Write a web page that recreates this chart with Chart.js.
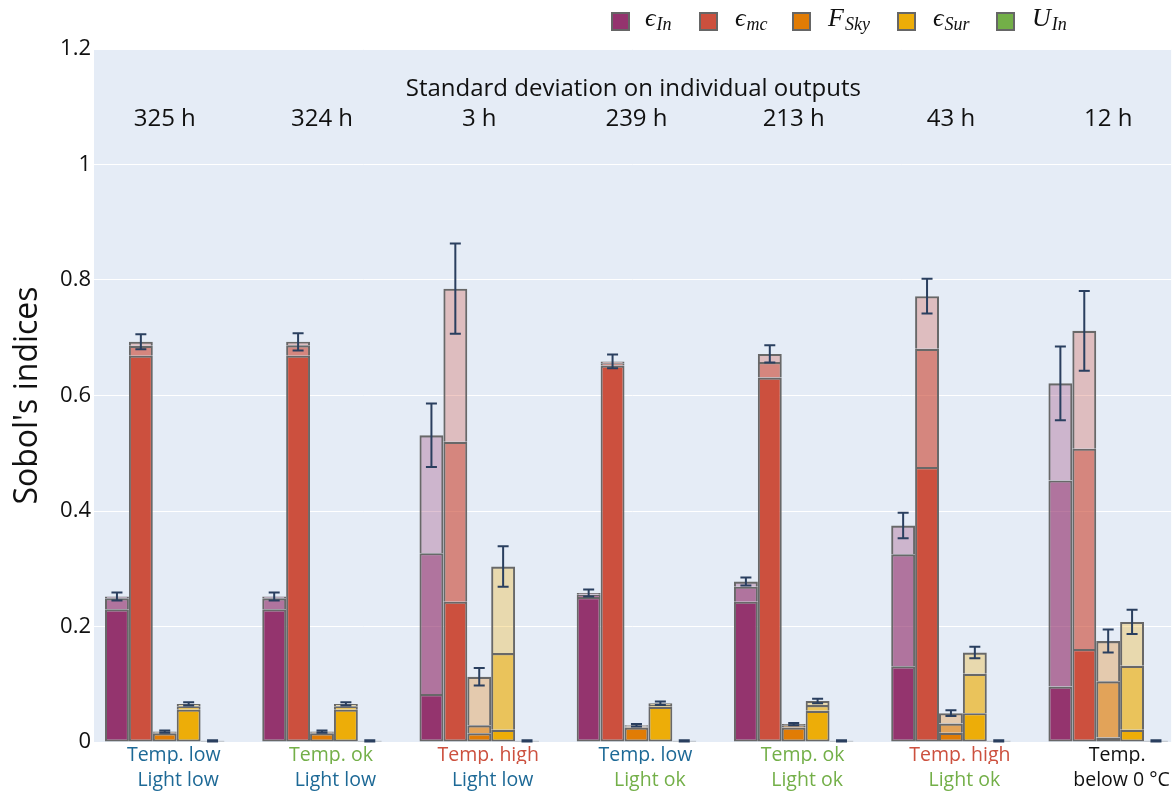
<!DOCTYPE html>
<html>
<head>
<meta charset="utf-8">
<script src="https://cdn.jsdelivr.net/npm/chart.js@4.4.0/dist/chart.umd.min.js"></script>
<style>
  body { margin: 0; background: #fff; overflow: hidden; }
  #wrap { position: relative; width: 1175px; height: 793px; }
  .sw { position: absolute; top: 12px; width: 15px; height: 15px; border: 2px solid #666; }
  .lb { position: absolute; top: 3px; line-height: 30px; font-family: 'Liberation Serif', serif;
        font-style: italic; font-size: 26px; color: #111; white-space: nowrap; }
  .lb sub { font-size: 18px; vertical-align: baseline; position: relative; top: 4px; margin-left: 1px; }
</style>
</head>
<body>
<div id="wrap">
  <canvas id="sobolCanvas" width="1175" height="793"></canvas>
  <div class="sw" style="left:611px;background:rgb(148,52,110)"></div>
  <div class="lb" style="left:645px">ϵ<sub>In</sub></div>
  <div class="sw" style="left:699px;background:rgb(204,80,62)"></div>
  <div class="lb" style="left:735px">ϵ<sub>mc</sub></div>
  <div class="sw" style="left:792px;background:rgb(225,124,5)"></div>
  <div class="lb" style="left:828px">F<sub>Sky</sub></div>
  <div class="sw" style="left:897px;background:rgb(237,173,8)"></div>
  <div class="lb" style="left:933px">ϵ<sub>Sur</sub></div>
  <div class="sw" style="left:996px;background:rgb(115,175,72)"></div>
  <div class="lb" style="left:1032px">U<sub>In</sub></div>
</div>
<script>
// scenarios (one group of bars each)
var hours = ['325 h', '324 h', '3 h', '239 h', '213 h', '43 h', '12 h'];
var tempLabels = ['Temp. low', 'Temp. ok', 'Temp. high', 'Temp. low', 'Temp. ok', 'Temp. high', 'Temp.'];
var lightLabels = ['Light low', 'Light low', 'Light low', 'Light ok', 'Light ok', 'Light ok', 'below 0 °C'];
var tempColors = ['#1d6996', '#73af48', '#cc503e', '#1d6996', '#73af48', '#cc503e', '#111'];
var lightColors = ['#1d6996', '#1d6996', '#1d6996', '#73af48', '#73af48', '#73af48', '#111'];

// Sobol indices: top of dark layer, top of middle layer, total, error on total
var epsIn_dark  = [0.230, 0.230, 0.083, 0.251, 0.243, 0.131, 0.096];
var epsIn_mid   = [0.249, 0.249, 0.327, 0.255, 0.269, 0.325, 0.453];
var epsIn_total = [0.252, 0.252, 0.531, 0.258, 0.278, 0.375, 0.621];
var epsIn_err   = [0.007, 0.007, 0.055, 0.006, 0.007, 0.022, 0.064];

var epsMc_dark  = [0.669, 0.669, 0.243, 0.652, 0.631, 0.476, 0.161];
var epsMc_mid   = [0.686, 0.687, 0.520, 0.656, 0.658, 0.681, 0.508];
var epsMc_total = [0.693, 0.693, 0.785, 0.659, 0.672, 0.772, 0.712];
var epsMc_err   = [0.013, 0.015, 0.078, 0.012, 0.015, 0.030, 0.069];

var fSky_dark  = [0.015, 0.015, 0.015, 0.025, 0.025, 0.016, 0.008];
var fSky_mid   = [0.017, 0.017, 0.029, 0.027, 0.029, 0.032, 0.105];
var fSky_total = [0.018, 0.018, 0.113, 0.029, 0.031, 0.050, 0.175];
var fSky_err   = [0.002, 0.002, 0.015, 0.002, 0.002, 0.005, 0.020];

var epsSur_dark  = [0.056, 0.056, 0.021, 0.061, 0.054, 0.050, 0.021];
var epsSur_mid   = [0.062, 0.062, 0.154, 0.064, 0.064, 0.118, 0.132];
var epsSur_total = [0.066, 0.066, 0.304, 0.067, 0.071, 0.155, 0.208];
var epsSur_err   = [0.003, 0.003, 0.035, 0.003, 0.004, 0.010, 0.021];

var uIn_dark  = [0.002, 0.002, 0.002, 0.002, 0.002, 0.002, 0.002];
var uIn_mid   = [0.002, 0.002, 0.002, 0.002, 0.002, 0.002, 0.002];
var uIn_total = [0.002, 0.002, 0.002, 0.002, 0.002, 0.002, 0.002];
var uIn_err   = [0.001, 0.001, 0.001, 0.001, 0.001, 0.001, 0.001];

var yTicks = [0, 0.2, 0.4, 0.6, 0.8, 1, 1.2];

var series = [
  { name: 'epsIn',  rgb: '148,52,110', dark: epsIn_dark,  mid: epsIn_mid,  total: epsIn_total,  err: epsIn_err },
  { name: 'epsMc',  rgb: '204,80,62',  dark: epsMc_dark,  mid: epsMc_mid,  total: epsMc_total,  err: epsMc_err },
  { name: 'fSky',   rgb: '225,124,5',  dark: fSky_dark,   mid: fSky_mid,   total: fSky_total,   err: fSky_err },
  { name: 'epsSur', rgb: '237,173,8',  dark: epsSur_dark, mid: epsSur_mid, total: epsSur_total, err: epsSur_err },
  { name: 'uIn',    rgb: '115,175,72', dark: uIn_dark,    mid: uIn_mid,    total: uIn_total,    err: uIn_err }
];

var X_MIN = -0.45, X_MAX = 6.4004;
var FONT = "'Open Sans', 'Noto Sans', sans-serif";

var datasets = [];
series.forEach(function (s) {
  var layers = [
    { vals: s.dark.map(function (v) { return v; }), alpha: 1 },
    { vals: s.mid.map(function (v, i) { return v - s.dark[i]; }), alpha: 0.65 },
    { vals: s.total.map(function (v, i) { return v - s.mid[i]; }), alpha: 0.3 }
  ];
  layers.forEach(function (l, k) {
    datasets.push({
      stack: s.name,
      data: l.vals.map(function (v, i) { return { x: i, y: v }; }),
      backgroundColor: 'rgba(' + s.rgb + ',' + l.alpha + ')',
      borderColor: '#686868',
      borderWidth: { top: 2.2, left: 2, right: 2, bottom: k === 0 ? 2 : 0 },
      borderSkipped: false,
      categoryPercentage: 0.76,
      barPercentage: 1
    });
  });
});

function intTicks(scale) {
  scale.ticks = hours.map(function (_, i) { return { value: i }; });
}

var sobolDecor = {
  id: 'sobolDecor',
  beforeDraw: function (chart) {
    var a = chart.chartArea, ctx = chart.ctx;
    ctx.save();
    ctx.fillStyle = '#E5ECF6';
    ctx.fillRect(a.left, a.top, a.right - a.left, a.bottom - a.top);
    ctx.restore();
  },
  afterDatasetsDraw: function (chart) {
    var ctx = chart.ctx, y = chart.scales.y, x = chart.scales.x;
    ctx.save();
    ctx.strokeStyle = '#2a3f5f';
    ctx.lineWidth = 2;
    series.forEach(function (s, p) {
      var meta = chart.getDatasetMeta(p * 3 + 2);
      meta.data.forEach(function (bar, i) {
        var yt = y.getPixelForValue(s.total[i] + s.err[i]);
        var yb = y.getPixelForValue(Math.max(0, s.total[i] - s.err[i]));
        ctx.beginPath();
        ctx.moveTo(bar.x, yt); ctx.lineTo(bar.x, yb);
        ctx.moveTo(bar.x - 5.5, yt); ctx.lineTo(bar.x + 5.5, yt);
        ctx.moveTo(bar.x - 5.5, yb); ctx.lineTo(bar.x + 5.5, yb);
        ctx.stroke();
      });
    });
    ctx.fillStyle = '#111';
    ctx.textAlign = 'center';
    ctx.textBaseline = 'middle';
    ctx.font = '24px ' + FONT;
    ctx.fillText('Standard deviation on individual outputs', x.getPixelForValue(2.98), y.getPixelForValue(1.131));
    hours.forEach(function (h, i) {
      ctx.fillText(h, x.getPixelForValue(i), y.getPixelForValue(1.078));
    });
    ctx.restore();
  }
};

new Chart(document.getElementById('sobolCanvas'), {
  type: 'bar',
  data: { datasets: datasets },
  options: {
    responsive: false,
    animation: false,
    layout: { padding: { top: 49, right: 0, bottom: 0, left: 0 } },
    plugins: { legend: { display: false }, tooltip: { enabled: false } },
    scales: {
      x: {
        type: 'linear', stacked: true, display: false, offset: false,
        min: X_MIN, max: X_MAX,
        afterBuildTicks: intTicks
      },
      xTemp: {
        type: 'linear', position: 'bottom', weight: 1, offset: false,
        min: X_MIN, max: X_MAX,
        grid: { display: false, drawTicks: false }, border: { display: false },
        afterBuildTicks: function (s) { s.ticks = tempLabels.map(function (_, i) { return { value: i + 0.057 }; }); },
        afterFit: function (s) { s.height = 22; },
        ticks: {
          autoSkip: false, maxRotation: 0, padding: 2,
          font: { family: FONT, size: 19.5 },
          color: function (c) { return tempColors[c.index]; },
          callback: function (v, i) { return tempLabels[i]; }
        }
      },
      xLight: {
        type: 'linear', position: 'bottom', weight: 2, offset: false,
        min: X_MIN, max: X_MAX,
        grid: { display: false, drawTicks: false }, border: { display: false },
        afterBuildTicks: function (s) { s.ticks = lightLabels.map(function (_, i) { return { value: i + 0.085 }; }); },
        afterFit: function (s) { s.height = 29; },
        ticks: {
          autoSkip: false, maxRotation: 0, padding: 5,
          font: { family: FONT, size: 19.5 },
          color: function (c) { return lightColors[c.index]; },
          callback: function (v, i) { return lightLabels[i]; }
        }
      },
      y: {
        stacked: true, min: 0, max: 1.2,
        afterFit: function (s) { s.width = 94; },
        afterBuildTicks: function (s) { s.ticks = yTicks.map(function (v) { return { value: v }; }); },
        grid: { color: '#fff', lineWidth: 1, drawTicks: false },
        border: { display: false },
        ticks: { padding: 3, color: '#111', font: { family: FONT, size: 22 },
                 callback: function (v) { return String(v); } },
        title: { display: true, text: "Sobol's indices", color: '#111',
                 font: { family: FONT, size: 32 }, padding: { top: 9, bottom: 0 } }
      }
    }
  },
  plugins: [sobolDecor]
});
</script>
</body>
</html>
